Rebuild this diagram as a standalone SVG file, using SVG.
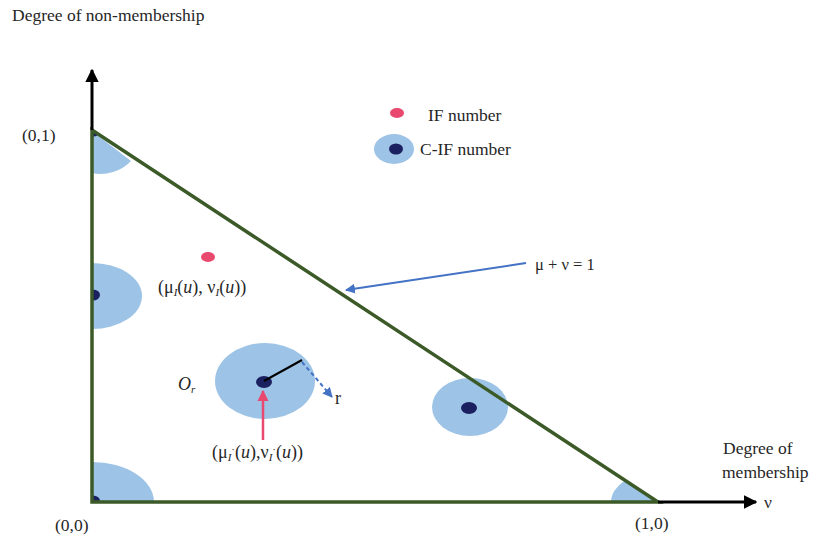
<svg xmlns="http://www.w3.org/2000/svg" width="814" height="542" viewBox="0 0 814 542">
<style>
text{font-family:"Liberation Serif","DejaVu Serif",serif;fill:#262626;}
.lbl{font-size:17.5px;}
.math{font-size:18px;}
.eq{font-size:16.5px;}
.blue{fill:#9dc3e6;}
.dark{fill:#1b2060;}
.pink{fill:#e9496e;}
.axis{stroke:#000;stroke-width:3;fill:none;}
.tri{stroke:#3b5a27;stroke-width:3.5;fill:none;stroke-linejoin:miter;}
</style>
<defs>
<clipPath id="triClip"><polygon points="92,130 92,502 658,502"/></clipPath>
<marker id="arrBlue" viewBox="0 0 10 10" refX="9" refY="5" markerWidth="5" markerHeight="5" orient="auto"><path d="M0,0 L10,5 L0,10 Z" fill="#4472c4"/></marker>
<marker id="arrPink" viewBox="0 0 10 10" refX="9" refY="5" markerWidth="4.5" markerHeight="4.5" orient="auto"><path d="M0,0 L10,5 L0,10 Z" fill="#e9496e"/></marker>
<marker id="arrBlack" viewBox="0 0 10 10" refX="9" refY="5" markerWidth="4.5" markerHeight="4.5" orient="auto"><path d="M0,0 L10,5 L0,10 Z" fill="#000"/></marker>
</defs>
<rect width="814" height="542" fill="#fff"/>

<g id="axis-labels">
<text class="lbl" x="12" y="21">Degree of non-membership</text>
<text class="lbl" x="723" y="454">Degree of</text>
<text class="lbl" x="722" y="478">membership</text>
<text class="lbl" x="764" y="508">ν</text>
<text class="lbl" x="22" y="141">(0,1)</text>
<text class="lbl" x="55" y="531">(0,0)</text>
<text class="lbl" x="635" y="529">(1,0)</text>
</g>

<g id="regions" clip-path="url(#triClip)">
<g id="cif-left">
<ellipse class="blue" cx="92" cy="296" rx="50" ry="33"/>
<ellipse class="dark" cx="93" cy="295" rx="7" ry="5.5"/>
</g>
<g id="cif-bottom-left">
<ellipse class="blue" cx="92" cy="502" rx="62" ry="40"/>
<ellipse class="dark" cx="93" cy="501" rx="7" ry="5.5"/>
</g>
<g id="cif-bottom-right">
<ellipse class="blue" cx="658" cy="502" rx="47" ry="30"/>
</g>
<g id="cif-top">
<path class="blue" d="M92,131 L131,161 A42,42 0 0 1 92,173 Z"/>
<ellipse class="dark" cx="93" cy="131" rx="7" ry="5.5"/>
</g>
</g>

<g id="cif-center">
<ellipse class="blue" cx="265" cy="381" rx="50" ry="38"/>
<ellipse class="dark" cx="264" cy="382" rx="8" ry="6"/>
</g>
<g id="cif-right">
<ellipse class="blue" cx="470" cy="407" rx="38" ry="29"/>
<ellipse class="dark" cx="469" cy="408" rx="8" ry="6"/>
</g>
<g id="if-point">
<ellipse class="pink" cx="208" cy="257" rx="7" ry="5"/>
<text class="math" x="158" y="293">(μ<tspan font-size="11" font-style="italic" dy="3">I</tspan><tspan dy="-3">(</tspan><tspan font-style="italic">u</tspan>), ν<tspan font-size="11" font-style="italic" dy="3">I</tspan><tspan dy="-3">(</tspan><tspan font-style="italic">u</tspan>))</text>
</g>

<g id="triangle">
<polygon class="tri" points="92,130 92,502 658,502"/>
</g>

<g id="legend">
<ellipse class="pink" cx="397" cy="113" rx="7" ry="5"/>
<text class="lbl" x="428" y="121">IF number</text>
<ellipse class="blue" cx="394" cy="149" rx="20" ry="15"/>
<ellipse class="dark" cx="396" cy="149" rx="7" ry="5.5"/>
<text class="lbl" x="420" y="155">C-IF number</text>
</g>

<g id="connectors">
<line class="axis" x1="92" y1="130" x2="92" y2="70" marker-end="url(#arrBlack)"/>
<line class="axis" x1="658" y1="502" x2="756" y2="502" marker-end="url(#arrBlack)"/>
<line x1="526" y1="263" x2="346" y2="290" stroke="#4472c4" stroke-width="2" marker-end="url(#arrBlue)"/>
<line x1="263" y1="440" x2="263" y2="391" stroke="#e9496e" stroke-width="2.5" marker-end="url(#arrPink)"/>
<line x1="264" y1="381" x2="302" y2="360" stroke="#000" stroke-width="2"/>
<line x1="302" y1="362" x2="332" y2="397" stroke="#4472c4" stroke-width="2" stroke-dasharray="4,3" marker-end="url(#arrBlue)"/>
</g>

<g id="annotations">
<text class="eq" x="535" y="270">μ + ν = 1</text>
<text class="math" x="178" y="390" font-style="italic">O<tspan font-size="11" dy="3">r</tspan></text>
<text class="math" x="335" y="404">r</text>
<text class="math" x="212" y="458">(μ<tspan font-size="11" font-style="italic" dy="3">I</tspan><tspan font-size="11" dy="-8">·</tspan><tspan dy="5">(</tspan><tspan font-style="italic">u</tspan>),ν<tspan font-size="11" font-style="italic" dy="3">I</tspan><tspan font-size="11" dy="-8">·</tspan><tspan dy="5">(</tspan><tspan font-style="italic">u</tspan>))</text>
</g>
</svg>
